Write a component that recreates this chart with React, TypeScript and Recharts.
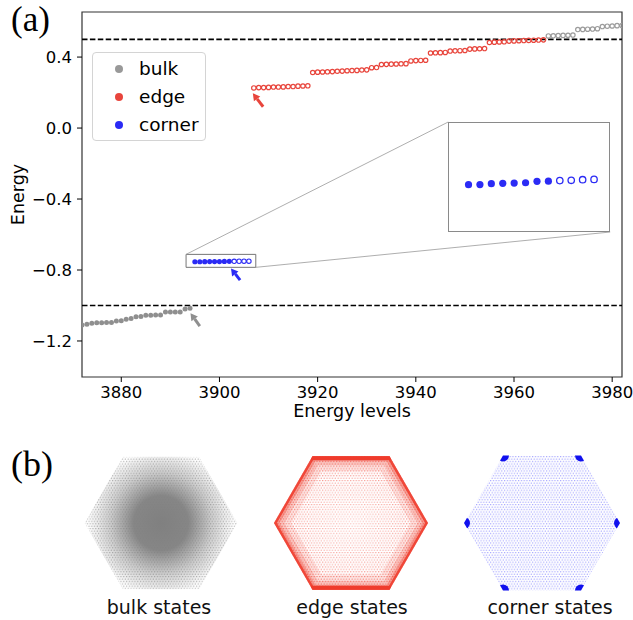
import React from "react";
import {
  ScatterChart,
  Scatter,
  XAxis,
  YAxis,
  ReferenceLine,
  ReferenceArea,
  Legend,
} from "recharts";

// energy levels
const bulkLowStart = 3872;
const bulkLowEnergy = [
  -1.11, -1.106, -1.1, -1.097, -1.097, -1.096, -1.096, -1.087, -1.086, -1.078,
  -1.074, -1.063, -1.062, -1.055, -1.055, -1.054, -1.054, -1.037, -1.037,
  -1.036, -1.036, -1.02, -1.016,
];
const cornerStart = 3895;
const cornerEnergy = [
  -0.7536, -0.7535, -0.7529, -0.7527, -0.7525, -0.7523, -0.7514, -0.7513,
  -0.7509, -0.7507, -0.7503, -0.7501,
];
const cornerFilledCount = 8;
const edgeStart = 3907;
const edgeEnergy = [
  0.226, 0.228, 0.228, 0.229, 0.231, 0.231, 0.232, 0.234, 0.234, 0.236, 0.237,
  0.238, 0.313, 0.315, 0.316, 0.317, 0.318, 0.32, 0.321, 0.323, 0.324, 0.325,
  0.327, 0.328, 0.34, 0.341, 0.358, 0.359, 0.36, 0.361, 0.362, 0.363, 0.378,
  0.38, 0.381, 0.382, 0.423, 0.424, 0.425, 0.426, 0.434, 0.435, 0.436, 0.437,
  0.445, 0.446, 0.447, 0.448, 0.482, 0.484, 0.485, 0.486, 0.49, 0.491, 0.492,
  0.493, 0.494, 0.495, 0.496, 0.497,
];
const bulkHighStart = 3967;
const bulkHighEnergy = [
  0.519, 0.52, 0.521, 0.522, 0.523, 0.524, 0.555, 0.556, 0.557, 0.558, 0.56,
  0.572, 0.574, 0.575, 0.577, 0.578,
];

const xDomain = [3872, 3982];
const yDomain = [-1.403, 0.654];
const xTicks = [3880, 3900, 3920, 3940, 3960, 3980];
const yTicks = [-1.2, -0.8, -0.4, 0.0, 0.4];
const gapEnergies = [0.5, -1.0];

// zoomed window and where the inset sits (in main-axis data units)
const zoomX = [3893.2, 3907.4];
const zoomY = [-0.785, -0.712];
const insetBoxX = [3946.6, 3979.6];
const insetBoxY = [-0.586, 0.034];

const arrows = [
  { from: { x: 3908.9, y: 0.12 }, to: { x: 3906.8, y: 0.196 }, color: "#e8453c" },
  { from: { x: 3904.2, y: -0.857 }, to: { x: 3902.35, y: -0.791 }, color: "#2b2bf5" },
  { from: { x: 3896.0, y: -1.116 }, to: { x: 3894.1, y: -1.044 }, color: "#8f8f8f" },
];

const legendItems = [
  { name: "bulk", color: "#999999" },
  { name: "edge", color: "#e8453c" },
  { name: "corner", color: "#2b2bf5" },
];
const stateLabels = ["bulk states", "edge states", "corner states"];

const GRAY = "#8f8f8f";
const GRAY_LIGHT = "#9c9c9c";
const RED = "#e8453c";
const BLUE = "#2b2bf5";
const FONT = "'DejaVu Sans', sans-serif";
const SERIF = "'Liberation Serif', 'DejaVu Serif', serif";

const toPoints = (start: number, values: number[]) =>
  values.map((y, i) => ({ x: start + i, y }));

const bulkLow = toPoints(bulkLowStart, bulkLowEnergy);
const cornerAll = toPoints(cornerStart, cornerEnergy);
const cornerFilled = cornerAll.slice(0, cornerFilledCount);
const cornerOpen = cornerAll.slice(cornerFilledCount);
const edge = toPoints(edgeStart, edgeEnergy);
const bulkHigh = toPoints(bulkHighStart, bulkHighEnergy);

const fmt = (v: number) => (v < 0 ? "\u2212" : "") + Math.abs(v).toFixed(1);

const dot = (color: string, r: number) => (p: any) =>
  <circle cx={p.cx} cy={p.cy} r={r} fill={color} />;
const ring = (color: string, r: number, w: number) => (p: any) =>
  <circle cx={p.cx} cy={p.cy} r={r} fill="none" stroke={color} strokeWidth={w} />;

const arrowShape = (color: string) => (p: any) => {
  const { x1, y1, x2, y2 } = p;
  const len = Math.hypot(x2 - x1, y2 - y1) || 1;
  const ux = (x2 - x1) / len;
  const uy = (y2 - y1) / len;
  const hl = 7;
  const hw = 4;
  const bx = x2 - ux * hl;
  const by = y2 - uy * hl;
  return (
    <g>
      <line x1={x1} y1={y1} x2={bx} y2={by} stroke={color} strokeWidth={3} />
      <polygon
        points={`${x2},${y2} ${bx - uy * hw},${by + ux * hw} ${bx + uy * hw},${by - ux * hw}`}
        fill={color}
      />
    </g>
  );
};

const thinLine = (p: any) => (
  <line x1={p.x1} y1={p.y1} x2={p.x2} y2={p.y2} stroke="#999" strokeWidth={0.8} />
);

function LegendBox() {
  return (
    <div
      style={{
        boxSizing: "border-box",
        width: 114,
        height: 89,
        border: "1px solid #d4d4d4",
        borderRadius: 4,
        background: "rgba(255,255,255,0.85)",
        paddingTop: 2,
        fontFamily: FONT,
        fontSize: 18.5,
        color: "#000",
      }}
    >
      {legendItems.map((it) => (
        <div key={it.name} style={{ display: "flex", alignItems: "center", height: 28 }}>
          <svg width={46} height={28} style={{ flex: "none" }}>
            <circle cx={26} cy={14} r={4} fill={it.color} />
          </svg>
          <span style={{ lineHeight: "28px", marginTop: -1 }}>{it.name}</span>
        </div>
      ))}
    </div>
  );
}

function hexPoints(cx: number, cy: number, r: number) {
  const pts: string[] = [];
  for (let k = 0; k < 6; k++) {
    const a = (Math.PI / 3) * k;
    pts.push(`${cx + r * Math.cos(a)},${cy + r * Math.sin(a)}`);
  }
  return pts.join(" ");
}

function PanelB() {
  const cy = 523;
  const hx = [161, 351, 542];
  const hr = [76.5, 77, 78];
  const lx = [159, 352, 550];
  const corner = (cx: number, r: number) =>
    [0, 1, 2, 3, 4, 5].map((k) => {
      const a = (Math.PI / 3) * k;
      return { x: cx + r * Math.cos(a), y: cy + r * Math.sin(a) };
    });
  const edgeBands = [
    { w: 30, o: 0.12 },
    { w: 18, o: 0.18 },
    { w: 10, o: 0.3 },
    { w: 5, o: 0.85 },
  ];
  return (
    <svg width={633} height={620} style={{ position: "absolute", left: 0, top: 0 }}>
      <defs>
        <pattern id="dGray" width="2.8" height="4.8" patternUnits="userSpaceOnUse">
          <circle cx="0.7" cy="0.6" r="0.55" fill="#7a7a7a" opacity="0.8" />
          <circle cx="2.1" cy="3.0" r="0.55" fill="#7a7a7a" opacity="0.8" />
        </pattern>
        <pattern id="dRed" width="2.8" height="4.8" patternUnits="userSpaceOnUse">
          <circle cx="0.7" cy="0.6" r="0.65" fill="#ef3b2c" opacity="0.8" />
          <circle cx="2.1" cy="3.0" r="0.65" fill="#ef3b2c" opacity="0.8" />
        </pattern>
        <pattern id="dBlue" width="2.8" height="4.8" patternUnits="userSpaceOnUse">
          <circle cx="0.7" cy="0.6" r="0.55" fill="#3030ff" opacity="0.6" />
          <circle cx="2.1" cy="3.0" r="0.55" fill="#3030ff" opacity="0.6" />
        </pattern>
        <radialGradient id="gBulk">
          <stop offset="0" stopColor="#808080" stopOpacity="1" />
          <stop offset="0.38" stopColor="#808080" stopOpacity="0.95" />
          <stop offset="0.7" stopColor="#808080" stopOpacity="0.4" />
          <stop offset="1" stopColor="#808080" stopOpacity="0" />
        </radialGradient>
        <radialGradient id="gEdge">
          <stop offset="0" stopColor="#fff" stopOpacity="0.6" />
          <stop offset="0.6" stopColor="#fff" stopOpacity="0.35" />
          <stop offset="1" stopColor="#fff" stopOpacity="0" />
        </radialGradient>
        {hx.map((cx, i) => (
          <clipPath id={`hex${i}`} key={i}>
            <polygon points={hexPoints(cx, cy, hr[i])} />
          </clipPath>
        ))}
      </defs>

      <text x={11} y={476} fontFamily={SERIF} fontSize={36} fill="#000">(b)</text>

      {/* bulk */}
      <g clipPath="url(#hex0)">
        <polygon points={hexPoints(hx[0], cy, hr[0])} fill="url(#dGray)" />
        <circle cx={hx[0]} cy={cy} r={72} fill="url(#gBulk)" />
      </g>

      {/* edge */}
      <g clipPath="url(#hex1)">
        <polygon points={hexPoints(hx[1], cy, hr[1])} fill="url(#dRed)" />
        <circle cx={hx[1]} cy={cy} r={72} fill="url(#gEdge)" />
        {edgeBands.map((b) => (
          <polygon
            key={b.w}
            points={hexPoints(hx[1], cy, hr[1])}
            fill="none"
            stroke="#ef3b2c"
            strokeOpacity={b.o}
            strokeWidth={b.w}
          />
        ))}
        <line x1={hx[1] - 40} y1={cy - 66.7} x2={hx[1] + 40} y2={cy - 66.7} stroke="#ef3b2c" strokeWidth={8} />
        <line x1={hx[1] - 40} y1={cy + 66.7} x2={hx[1] + 40} y2={cy + 66.7} stroke="#ef3b2c" strokeWidth={8} />
      </g>

      {/* corner */}
      <g clipPath="url(#hex2)">
        <polygon points={hexPoints(hx[2], cy, hr[2])} fill="url(#dBlue)" />
        {corner(hx[2], hr[2]).map((v, k) => (
          <circle key={k} cx={v.x} cy={v.y} r={6} fill="#1010ee" />
        ))}
      </g>

      {stateLabels.map((s, i) => (
        <text key={s} x={lx[i]} y={614} textAnchor="middle" fontFamily={FONT} fontSize={19} fill="#111">
          {s}
        </text>
      ))}
    </svg>
  );
}

export default function App() {
  return (
    <div
      style={{
        position: "absolute",
        left: 0,
        top: 0,
        width: 633,
        height: 620,
        background: "#fff",
        overflow: "hidden",
        fontFamily: FONT,
      }}
    >
      <PanelB />
      <svg width={80} height={45} style={{ position: "absolute", left: 0, top: 0 }}>
        <text x={11} y={31} fontFamily={SERIF} fontSize={35} fill="#000">(a)</text>
      </svg>

      <div style={{ position: "absolute", left: 0, top: 0 }}>
        <ScatterChart width={633} height={430} margin={{ top: 12, right: 11, bottom: 0, left: 0 }}>
          <XAxis
            type="number"
            dataKey="x"
            domain={xDomain}
            ticks={xTicks}
            allowDataOverflow
            height={53}
            axisLine={false}
            tickLine={{ stroke: "#000" }}
            tickSize={5}
            tickMargin={4}
            tick={{ fill: "#000", fontSize: 16.5, fontFamily: FONT }}
            label={(p: any) => {
              const vb = p.viewBox;
              return (
                <text x={vb.x + vb.width / 2} y={vb.y + 40} textAnchor="middle" fontFamily={FONT} fontSize={17.5} fill="#000">
                  Energy levels
                </text>
              );
            }}
          />
          <YAxis
            type="number"
            dataKey="y"
            domain={yDomain}
            ticks={yTicks}
            allowDataOverflow
            width={82}
            axisLine={false}
            tickLine={{ stroke: "#000" }}
            tickSize={5}
            tickMargin={5}
            tickFormatter={fmt}
            tick={{ fill: "#000", fontSize: 16.5, fontFamily: FONT }}
            label={(p: any) => {
              const vb = p.viewBox;
              const cx = 18;
              const cy = vb.y + vb.height / 2;
              return (
                <text
                  x={cx}
                  y={cy}
                  textAnchor="middle"
                  dominantBaseline="central"
                  transform={`rotate(-90, ${cx}, ${cy})`}
                  fontFamily={FONT}
                  fontSize={17.5}
                  fill="#000"
                >
                  Energy
                </text>
              );
            }}
          />
          <ReferenceArea
            x1={xDomain[0]}
            x2={xDomain[1]}
            y1={yDomain[0]}
            y2={yDomain[1]}
            fill="none"
            stroke="#333"
            strokeWidth={1.2}
            ifOverflow="visible"
          />
          {gapEnergies.map((e) => (
            <ReferenceLine key={e} y={e} stroke="#000" strokeWidth={1.6} strokeDasharray="5.5 2.4" />
          ))}
          <ReferenceArea
            x1={zoomX[0]}
            x2={zoomX[1]}
            y1={zoomY[0]}
            y2={zoomY[1]}
            fill="none"
            stroke="#666"
            strokeWidth={0.9}
          />
          <ReferenceLine
            segment={[{ x: zoomX[0], y: zoomY[1] }, { x: insetBoxX[0], y: insetBoxY[1] }]}
            shape={thinLine}
          />
          <ReferenceLine
            segment={[{ x: zoomX[1], y: zoomY[0] }, { x: insetBoxX[1], y: insetBoxY[0] }]}
            shape={thinLine}
          />
          <Scatter name="bulk" data={bulkLow} shape={dot(GRAY, 2.5)} isAnimationActive={false} />
          <Scatter data={bulkHigh} shape={ring(GRAY_LIGHT, 2.2, 1.2)} isAnimationActive={false} />
          <Scatter name="edge" data={edge} shape={ring(RED, 2.2, 1.2)} isAnimationActive={false} />
          <Scatter name="corner" data={cornerFilled} shape={dot(BLUE, 2.6)} isAnimationActive={false} />
          <Scatter data={cornerOpen} shape={ring(BLUE, 2.2, 1.1)} isAnimationActive={false} />
          {arrows.map((a, i) => (
            <ReferenceLine key={i} segment={[a.from, a.to]} shape={arrowShape(a.color)} />
          ))}
          <Legend
            layout="vertical"
            align="center"
            verticalAlign="middle"
            wrapperStyle={{ left: 92, top: 52, width: 114, height: 89 }}
            content={() => <LegendBox />}
          />
        </ScatterChart>
      </div>

      {/* zoomed inset */}
      <div
        style={{
          position: "absolute",
          left: 448,
          top: 122,
          width: 162,
          height: 110,
          background: "#fff",
          boxSizing: "border-box",
          border: "1px solid #8a8a8a",
        }}
      >
        <ScatterChart width={160} height={108} margin={{ top: 0, right: 0, bottom: 0, left: 0 }}>
          <XAxis type="number" dataKey="x" domain={[zoomX[0] + 0.09, zoomX[1] - 0.09]} hide allowDataOverflow />
          <YAxis type="number" dataKey="y" domain={[zoomY[0] + 0.0007, zoomY[1] - 0.0007]} hide allowDataOverflow />
          <Scatter data={cornerFilled} shape={dot(BLUE, 3.6)} isAnimationActive={false} />
          <Scatter data={cornerOpen} shape={ring(BLUE, 3.2, 1.3)} isAnimationActive={false} />
        </ScatterChart>
      </div>
    </div>
  );
}
